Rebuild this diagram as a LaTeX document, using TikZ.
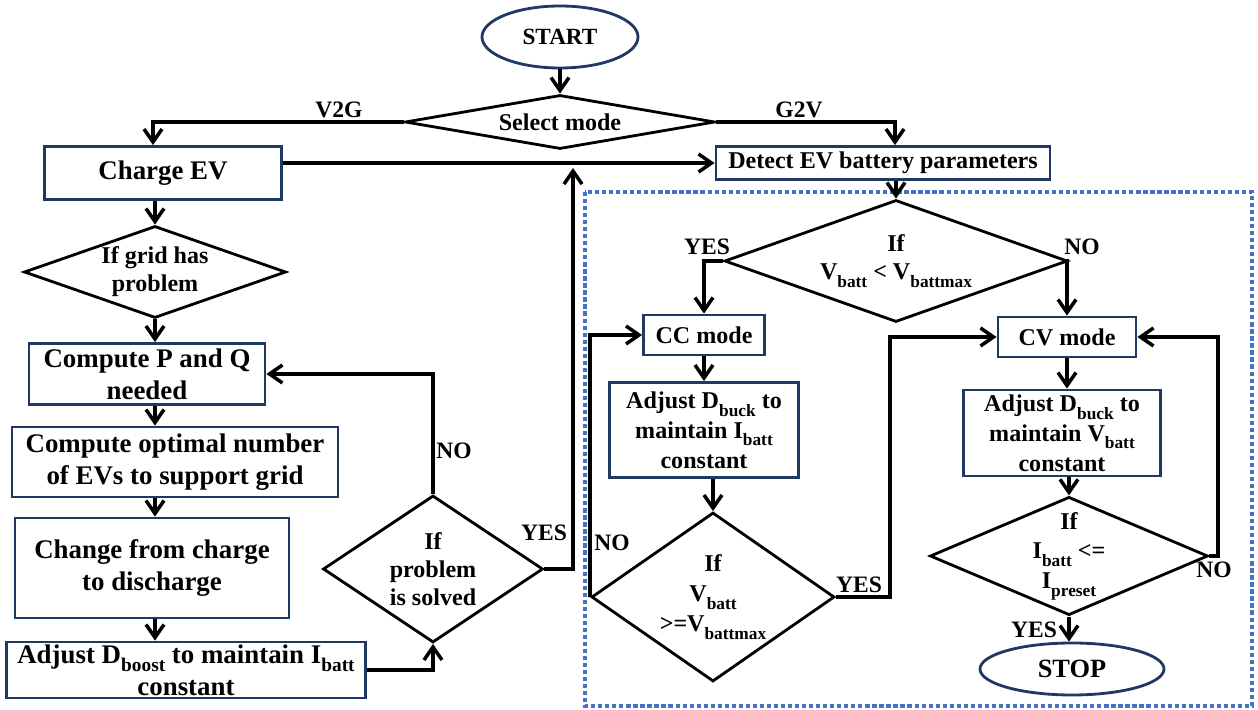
\documentclass[tikz,border=0pt]{standalone}
\usepackage{fontspec}
\setmainfont{Liberation Serif}
\usepackage{tikz}
\usetikzlibrary{shapes}
\usetikzlibrary{arrows.meta}
\definecolor{boxblue}{RGB}{32,56,100}
\definecolor{frameblue}{RGB}{68,114,196}
\newcommand{\lowsub}[1]{\raisebox{-.32em}{\scalebox{.72}{#1}}}
\tikzset{
	box/.style={draw=boxblue, line width=1.6pt, inner sep=0pt, align=center, font=\fontsize{15.3}{18.3}\selectfont\bfseries},
	sbox/.style={box, font=\fontsize{13.7}{17}\selectfont\bfseries},
	dec/.style={draw, diamond, line width=1.6pt, inner sep=0pt, align=center, font=\fontsize{13.7}{16}\selectfont\bfseries},
	term/.style={draw=boxblue, ellipse, line width=1.6pt, inner sep=0pt},
	lbl/.style={inner sep=0pt, font=\fontsize{13.4}{16}\selectfont\bfseries},
	arr/.style={line width=2pt, -{Straight Barb[length=2.6mm,width=3.6mm]}},
}

\begin{document}
\begin{tikzpicture}
			%	\draw[very thin,densely dashed] (0,0) grid (25,14);
			\useasboundingbox (0,0) rectangle (25.16,14.2);
			\draw[frameblue, line width=2.2pt, dash pattern=on 2.4pt off 1.6pt] (11.70,10.36) rectangle (25.04,0.08);
			% V2G branch
			\node[term, minimum width=3.12cm, minimum height=1.24cm, font=\fontsize{13.2}{16}\selectfont\bfseries] (start) at (11.2,13.46) {START};
			\node[dec, aspect=5.74, minimum width=6.2cm, minimum height=1.08cm] (sel) at (11.2,11.76) {Select mode};
			\node[box, minimum width=4.74cm, minimum height=1.06cm] (charge) at (3.26,10.74) {Charge EV};
			\node[sbox, minimum width=6.68cm, minimum height=0.66cm] (detect) at (17.66,10.94) {Detect EV battery parameters};
			\node[dec, aspect=2.85, minimum width=5.24cm, minimum height=1.84cm] (grid) at (3.10,8.76) {If grid has\\problem};
			\node[box, minimum width=4.72cm, minimum height=1.22cm] (pq) at (2.94,6.72) {Compute P and Q\\needed};
			\node[box, minimum width=6.52cm, minimum height=1.40cm] (opt) at (3.50,4.96) {Compute optimal number\\of EVs to support grid};
			\node[box, minimum width=5.48cm, minimum height=2.0cm] (chg) at (3.04,2.84) {Change from charge\\to discharge};
			\node[box, minimum width=7.18cm, minimum height=1.12cm] (boost) at (3.72,0.80) {Adjust D\lowsub{boost} to maintain I\lowsub{batt}\\constant};
			\node[dec, aspect=1.50, minimum width=4.40cm, minimum height=2.94cm] (solved) at (8.66,2.82) {If\\problem\\is solved};
			\coordinate (join) at (11.46,10.94);
			% G2V branch
			\node[dec, aspect=2.81, minimum width=6.86cm, minimum height=2.44cm] (vb) at (17.92,8.98) {If\\V\lowsub{batt} < V\lowsub{battmax}};
			\node[sbox, minimum width=2.42cm, minimum height=0.80cm] (cc) at (14.08,7.50) {CC mode};
			\node[sbox, minimum width=2.76cm, minimum height=0.80cm] (cv) at (21.34,7.46) {CV mode};
			\node[sbox, minimum width=3.78cm, minimum height=1.90cm] (ccadj) at (14.08,5.60) {Adjust D\lowsub{buck} to\\maintain I\lowsub{batt}\\constant};
			\node[sbox, minimum width=3.94cm, minimum height=1.72cm] (cvadj) at (21.24,5.54) {Adjust D\lowsub{buck} to\\maintain V\lowsub{batt}\\constant};
			\node[dec, aspect=1.44, minimum width=4.86cm, minimum height=3.38cm, font=\fontsize{13.7}{17}\selectfont\bfseries] (ccif) at (14.26,2.26) {If\\V\lowsub{batt}\\>=V\lowsub{battmax}};
			\node[dec, aspect=2.35, minimum width=5.12cm, minimum height=2.18cm, font=\fontsize{13.7}{16.8}\selectfont\bfseries] (cvif) at (21.38,3.08) {If\\I\lowsub{batt} <=\\I\lowsub{preset}};
			\node[term, minimum width=3.68cm, minimum height=1.04cm, font=\fontsize{15}{18}\selectfont\bfseries] (stop) at (21.44,0.82) {STOP};
			\coordinate (ccbend) at (17.80,2.26);
			\coordinate (cvbend) at (24.36,3.08);
			% labels
			\node[lbl] (v2g) at (6.78,12.0) {V2G};
			\node[lbl] (g2v) at (15.98,12.0) {G2V};
			\node[lbl] (nosolved) at (9.08,5.18) {NO};
			\node[lbl] (yessolved) at (10.88,3.54) {YES};
			\node[lbl] (yesvb) at (14.14,9.26) {YES};
			\node[lbl] (novb) at (21.64,9.26) {NO};
			\node[lbl] (nocc) at (12.24,3.34) {NO};
			\node[lbl] (yescc) at (17.18,2.50) {YES};
			\node[lbl] (nocv) at (24.28,2.80) {NO};
			\node[lbl] (yescv) at (20.68,1.60) {YES};
			% connectors
			\draw[arr] (start) -- (sel);
			\draw[arr] (sel.west) -| ([xshift=-2mm]charge.north);
			\draw[arr] (sel.east) -| ([xshift=2.4mm]detect.north);
			\draw[arr] (charge.east |- detect.west) -- (detect.west);
			\draw[arr] (grid.north |- charge.south) -- (grid.north);
			\draw[arr] (grid.south) -- (grid.south |- pq.north);
			\draw[arr] (grid.south |- pq.south) -- (grid.south |- opt.north);
			\draw[arr] (grid.south |- opt.south) -- (grid.south |- chg.north);
			\draw[arr] (grid.south |- chg.south) -- (grid.south |- boost.north);
			\draw[arr] (boost.east) -| (solved.south);
			\draw[arr] (solved.north) |- (pq.east);
			\draw[arr] (solved.east) -| ([yshift=-1mm]join);
			\draw[arr] (vb.north |- detect.south) -- (vb.north);
			\draw[arr] (vb.west) -| (cc.north);
			\draw[arr] (vb.east) -| (cv.north);
			\draw[arr] (cc.south) -- (ccadj.north);
			\draw[arr] (ccif.north |- ccadj.south) -- (ccif.north);
			\draw[arr] (ccif.west) |- (cc.west);
			\draw[arr] (ccif.east) -| (ccbend |- cv.west) -- (cv.west);
			\draw[arr] (cv.south) -- (cv.south |- cvadj.north);
			\draw[arr] (cvif.north |- cvadj.south) -- (cvif.north);
			\draw[arr] (cvif.east) -| (cvbend |- cv.east) -- (cv.east);
			\draw[arr] (cvif.south) -- (cvif.south |- stop.north);
		\end{tikzpicture}
\end{document}
